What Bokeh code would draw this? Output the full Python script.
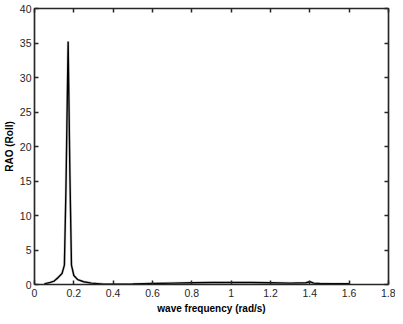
from bokeh.plotting import figure
from bokeh.models import FixedTicker, LinearAxis, Range1d
from bokeh.embed import file_html
from bokeh.resources import INLINE

freq = [0.05, 0.08, 0.10, 0.12, 0.14, 0.152, 0.160, 0.171, 0.180, 0.188, 0.20, 0.22,
        0.25, 0.29, 0.35, 0.40, 0.50, 0.60, 0.70, 0.80, 0.90, 1.00, 1.10, 1.20, 1.30,
        1.38, 1.40, 1.42, 1.45, 1.50, 1.60]
rao = [0.1, 0.3, 0.5, 1.0, 1.6, 2.8, 14.0, 35.2, 16.0, 2.8, 1.3, 0.7,
       0.4, 0.2, 0.05, 0.03, 0.08, 0.15, 0.2, 0.25, 0.3, 0.3, 0.28, 0.25, 0.2,
       0.25, 0.4, 0.2, 0.15, 0.12, 0.1]

x_ticks = [0, 0.2, 0.4, 0.6, 0.8, 1.0, 1.2, 1.4, 1.6, 1.8]
x_tick_labels = ["0", "0.2", "0.4", "0.6", "0.8", "1", "1.2", "1.4", "1.6", "1.8"]
y_ticks = [0, 5, 10, 15, 20, 25, 30, 35, 40]
y_tick_labels = ["0", "5", "10", "15", "20", "25", "30", "35", "40"]

FONT = "Liberation Sans"
TICKC = "#262626"

p = figure(width=395, height=316, output_backend="svg", toolbar_location=None,
           x_range=Range1d(0, 1.8), y_range=Range1d(0, 40),
           min_border_left=0, min_border_right=7, min_border_top=8, min_border_bottom=0)
p.background_fill_color = "white"
p.border_fill_color = "white"
p.grid.visible = False
p.outline_line_color = "#262626"
p.outline_line_width = 1.2

p.line(freq, rao, line_color="#d0d0d0", line_width=2.6)
p.line(freq, rao, line_color="black", line_width=1.4)

for ax, ticks, labels in [(p.xaxis[0], x_ticks, x_tick_labels), (p.yaxis[0], y_ticks, y_tick_labels)]:
    ax.ticker = FixedTicker(ticks=ticks)
    ax.major_label_overrides = {t: l for t, l in zip(ticks, labels)}
    ax.minor_tick_line_color = None
    ax.major_tick_in = 4
    ax.major_tick_out = 0
    ax.major_tick_line_color = TICKC
    ax.major_tick_line_width = 1.5
    ax.axis_line_color = TICKC
    ax.axis_line_width = 1.5
    ax.major_label_text_font = FONT
    ax.major_label_text_font_size = "10.5px"
    ax.major_label_text_color = TICKC
    ax.axis_label_text_font = FONT
    ax.axis_label_text_font_size = "10px"
    ax.axis_label_text_font_style = "bold"
    ax.axis_label_text_color = "black"

p.xaxis.axis_label = "wave frequency (rad/s)"
p.yaxis.axis_label = "RAO (Roll)"
p.xaxis.major_label_standoff = 4
p.xaxis.axis_label_standoff = 3
p.yaxis.major_label_standoff = 3
p.yaxis.axis_label_standoff = 2

for loc, ticks in [("above", x_ticks), ("right", y_ticks)]:
    a = LinearAxis(ticker=FixedTicker(ticks=ticks))
    a.major_label_overrides = {t: "" for t in ticks}
    a.major_label_text_font_size = "0px"
    a.major_label_text_color = None
    a.major_label_standoff = 0
    a.minor_tick_line_color = None
    a.major_tick_in = 4
    a.major_tick_out = 0
    a.major_tick_line_color = TICKC
    a.major_tick_line_width = 1.5
    a.axis_line_color = TICKC
    a.axis_line_width = 1.5
    p.add_layout(a, loc)

open("out.html", "w").write(file_html(p, INLINE))
